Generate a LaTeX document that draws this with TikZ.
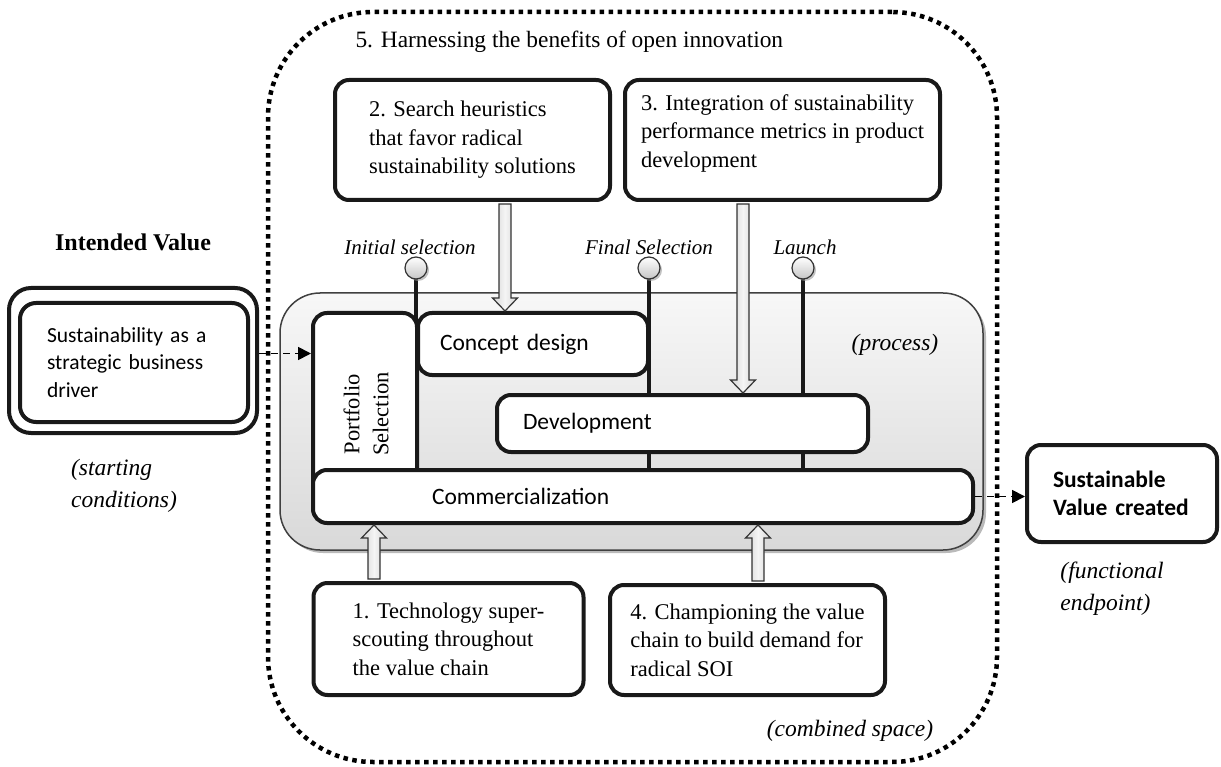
\documentclass[tikz,border=0pt]{standalone}
\usepackage{fontspec}
\setmainfont{Liberation Serif}
\newfontfamily\calib{Carlito}
\usetikzlibrary{shadows,arrows.meta,calc}
\pgfdeclarelayer{back}
\pgfdeclarelayer{mid}
\pgfsetlayers{back,mid,main}
\newcommand\blockarrow[2]{%
  \path[blockar] let \p1=(#1), \p2=(#2), \n1={sign(\y1-\y2)} in
   ({\x1-6pt},\y1) -- ({\x1-6pt},{\y2+13pt*(\n1)}) -- ({\x1-12.5pt},{\y2+13pt*(\n1)})
   -- (\x2,\y2) -- ({\x1+12.5pt},{\y2+13pt*(\n1)}) -- ({\x1+6pt},{\y2+13pt*(\n1)})
   -- ({\x1+6pt},\y1) -- cycle;}
\begin{document}
\begin{tikzpicture}[x=1pt,y=-1pt,
  thickbox/.style={draw=black!90, line width=4pt, rounded corners=14pt, fill=white, inner sep=0pt},
  serif/.style={font=\fontsize{22.5}{28.5}\selectfont},
  sans/.style={font=\calib\fontsize{23.5}{28}\selectfont},
  ital/.style={font=\itshape\fontsize{21}{30}\selectfont},
  paren/.style={font=\itshape\fontsize{23.5}{32}\selectfont, align=left},
  blockar/.style={draw=black!80, line width=1.2pt, left color=gray!35, right color=gray!35, middle color=gray!8},
  dasharrow/.style={draw=black, line width=1.8pt, dash pattern=on 7pt off 5pt, -{Triangle[length=13pt,width=13pt]}},
  milestone/.style={circle, minimum size=22pt, inner sep=0pt, draw=black!80, line width=1.2pt, top color=white, bottom color=gray!45, drop shadow={shadow xshift=2pt, shadow yshift=-2pt, fill=black!40, opacity=0.6}},
  msline/.style={line width=4pt, draw=black!90}
]
\useasboundingbox (0,0) rectangle (1221,767);

% combined space (dotted frame)
\node[draw=black, line width=4.5pt, dash pattern=on 4.5pt off 4.5pt, rounded corners=105pt,
      minimum width=729pt, minimum height=750pt] (combined) at (632.5,387) {};
\node[font=\fontsize{23.4}{28}\selectfont, anchor=west] (harness) at (352,42) {5. Harnessing the benefits of open innovation};
\node[paren] (combl) at (850,731) {(combined space)};

% process area
\begin{pgfonlayer}{back}
\node[draw=black!75, line width=1.5pt, rounded corners=40pt, minimum width=703pt, minimum height=257pt,
      top color=gray!6, bottom color=gray!30,
      drop shadow={shadow xshift=3pt, shadow yshift=-3pt, fill=black!45, opacity=0.6}] (process) at (631.5,421.5) {};
\end{pgfonlayer}
\node[paren] (procl) at (895,345) {(process)};

% stage boxes
\node[thickbox, minimum width=104pt, minimum height=184pt] (port) at (365,405) {};
\node[rotate=90, align=center, font=\fontsize{22.5}{29}\selectfont] (porttext) at (366,414) {Portfolio\\Selection};
\node[thickbox, sans, text width=186pt, inner xsep=22pt, align=left, minimum height=62pt] (concept) at (533,344) {Concept design};
\node[thickbox, sans, text width=319pt, inner xsep=26pt, align=left, minimum height=57pt] (devel) at (682.5,423.5) {Development};
\node[thickbox, sans, text width=422pt, inner xsep=119pt, align=left, minimum height=53pt] (comm) at (643,496.5) {Commercialization};

% milestones
\node[milestone] (m1) at (416,268) {};
\node[milestone] (m2) at (649,268) {};
\node[milestone] (m3) at (803,268) {};
\node[ital] (l1) at (410,247) {Initial selection};
\node[ital] (l2) at (649,247) {Final Selection};
\node[ital] (l3) at (805,247) {Launch};
\begin{pgfonlayer}{mid}
\draw[msline] (m1.center) -- (m1.center |- comm.north);
\draw[msline] (m2.center) -- (m2.center |- comm.north);
\draw[msline] (m3.center) -- (m3.center |- comm.north);
\end{pgfonlayer}

% practice boxes
\node[thickbox, serif, align=left, minimum width=275pt, minimum height=120pt] (box2) at (472.5,140)
  {2. Search heuristics\\that favor radical\\sustainability solutions};
\node[thickbox, serif, align=left, minimum width=315pt, minimum height=120pt] (box3) at (782.5,140)
  {3. Integration of sustainability\\performance metrics in product\\development\vphantom{g}\\[-10pt]};
\node[thickbox, serif, align=left, minimum width=270pt, minimum height=112pt] (box1) at (448.5,639)
  {1. Technology super-\\scouting throughout\\the value chain};
\node[thickbox, serif, align=left, minimum width=275pt, minimum height=110pt] (box4) at (747.5,640)
  {4. Championing the value\\chain to build demand for\\radical SOI};

% block arrows
\coordinate (a2) at ($(box2.south)+(32.5,2)$);
\coordinate (a3) at ($(box3.south)+(-39.5,2)$);
\coordinate (a1) at ($(box1.north)+(-74.5,-2)$);
\coordinate (a4) at ($(box4.north)+(10.5,-2)$);
\blockarrow{a2}{a2 |- concept.north}
\blockarrow{a3}{a3 |- devel.north}
\blockarrow{a1}{a1 |- comm.south}
\blockarrow{a4}{a4 |- comm.south}

% intended value
\node[font=\bfseries\fontsize{24}{28}\selectfont] (intended) at (133,242) {Intended Value};
\node[draw=black!90, line width=4pt, rounded corners=22pt, minimum width=248pt, minimum height=145pt, fill=white] (sustouter) at (133,360.5) {};
\node[thickbox, align=left, font=\calib\fontsize{21.5}{27.5}\selectfont, text width=174pt, inner xsep=27pt, minimum height=119pt, rounded corners=16pt] (sust) at (134,362.5)
  {Sustainability as a\\strategic business\\driver};
\node[paren] (startl) at (124,486) {(starting\\conditions)};

% functional endpoint
\node[thickbox, align=left, font=\calib\bfseries\fontsize{23.5}{28}\selectfont, text width=138pt, inner xsep=26pt, minimum height=97pt] (svc) at (1122,493.5)
  {Sustainable\\Value created};
\node[paren] (funcl) at (1112,589) {(functional\\endpoint)};

% dashed connectors
\draw[dasharrow] ([yshift=7pt]sustouter.east) -- ([yshift=7pt]sustouter.east -| port.west);
\draw[dasharrow] (comm.east) -- (comm.east -| svc.west);
\end{tikzpicture}
\end{document}
